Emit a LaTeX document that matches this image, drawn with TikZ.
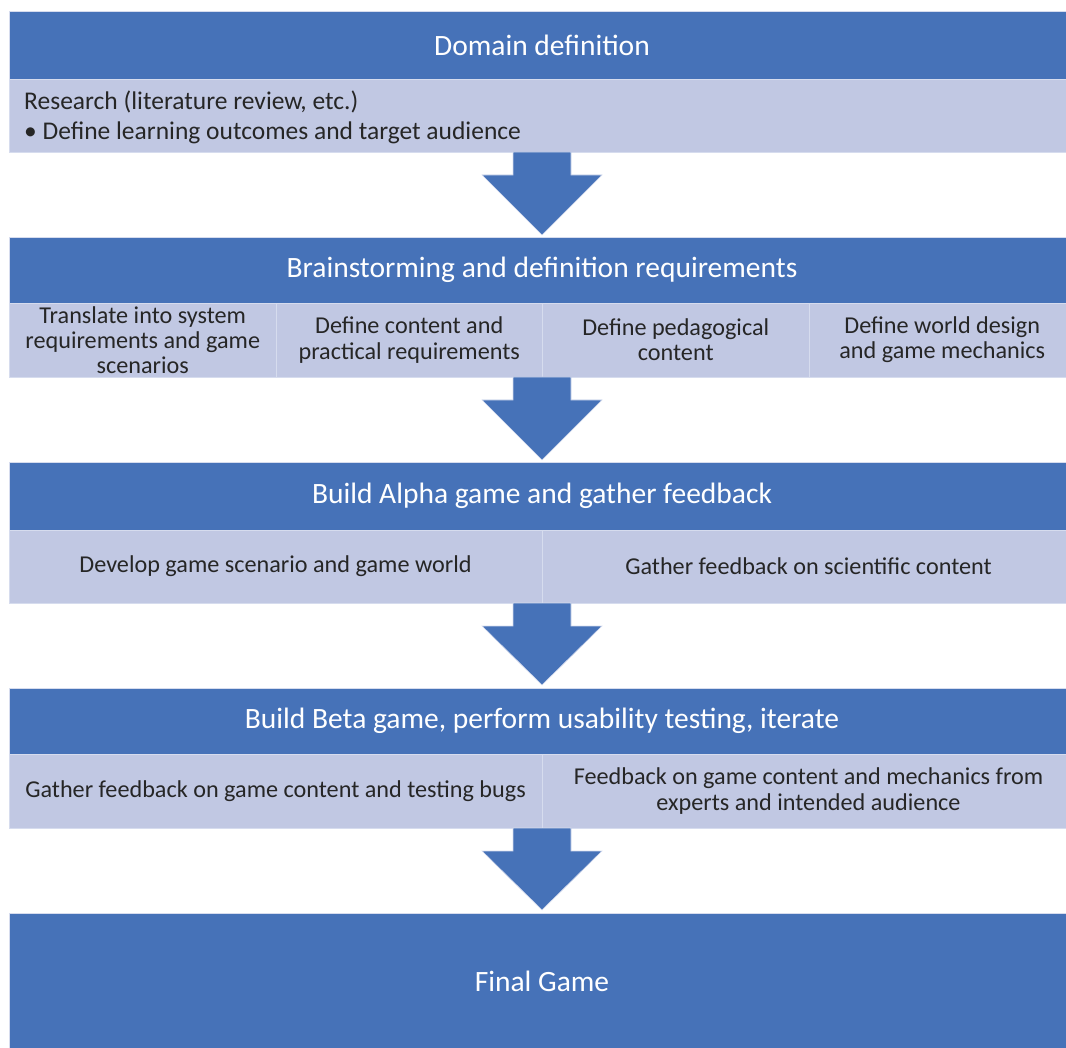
\documentclass[tikz,border=0pt]{standalone}
\usepackage{fontspec}
\setmainfont{Carlito}
\definecolor{hdrblue}{HTML}{4672B8}
\definecolor{subblue}{HTML}{C1C8E3}
\definecolor{edge}{HTML}{D6DCEE}
\definecolor{txt}{HTML}{262626}
\begin{document}
\begin{tikzpicture}[x=1pt,y=-1pt,
  hdr/.style={rectangle, fill=hdrblue, draw=edge, line width=0.8pt, text=white, inner sep=0pt,
    font=\fontsize{29.5}{34}\selectfont},
  sub/.style={rectangle, fill=subblue, draw=edge, line width=0.8pt, text=txt, inner sep=0pt,
    align=center, font=\fontsize{24.2}{25.3}\selectfont},
  blockarrow/.style={fill=hdrblue, draw=edge, line width=0.6pt}]
\useasboundingbox (0,0) rectangle (1066,1048);
\clip (0,0) rectangle (1066,1048);
% Box 1
\node[hdr, minimum width=1066pt, minimum height=68pt] (h1) at (542,45) {Domain definition};
\node[sub, minimum width=1066pt, minimum height=73pt] (s1) at (542,115.5) {};
\node[anchor=west, text=txt, align=left, font=\fontsize{25.5}{30}\selectfont, inner sep=0pt] (s1t) at (24,117.5)
  {Research (literature review, etc.)\\\textbullet{} Define learning outcomes and target audience};
% Arrow 1
\draw[blockarrow] (513,152) -- (571,152) -- (571,175) -- (602,175) -- (542,235) -- (482,175) -- (513,175) -- cycle;
% Box 2
\node[hdr, minimum width=1066pt, minimum height=66pt] (h2) at (542,270) {Brainstorming and definition requirements};
\node[sub, minimum width=266.5pt, minimum height=74pt] (s2a) at (142.75,340) {Translate into system\\requirements and game\\scenarios};
\node[sub, minimum width=266.5pt, minimum height=74pt] (s2b) at (409.25,340) {Define content and\\practical requirements};
\node[sub, minimum width=266.5pt, minimum height=74pt] (s2c) at (675.75,340) {Define pedagogical\\content};
\node[sub, minimum width=266.5pt, minimum height=74pt] (s2d) at (942.25,340) {Define world design\\and game mechanics};
% Arrow 2
\draw[blockarrow] (513,377) -- (571,377) -- (571,400) -- (602,400) -- (542,460) -- (482,400) -- (513,400) -- cycle;
% Box 3
\node[hdr, minimum width=1066pt, minimum height=68pt] (h3) at (542,496) {Build Alpha game and gather feedback};
\node[sub, minimum width=533pt, minimum height=73pt] (s3a) at (275.5,566.5) {Develop game scenario and game world};
\node[sub, minimum width=533pt, minimum height=73pt] (s3b) at (808.5,566.5) {Gather feedback on scientific content};
% Arrow 3
\draw[blockarrow] (513,603) -- (571,603) -- (571,626) -- (602,626) -- (542,685) -- (482,626) -- (513,626) -- cycle;
% Box 4
\node[hdr, minimum width=1066pt, minimum height=66pt] (h4) at (542,721) {Build Beta game, perform usability testing, iterate};
\node[sub, minimum width=533pt, minimum height=74pt] (s4a) at (275.5,791) {Gather feedback on game content and testing bugs};
\node[sub, minimum width=533pt, minimum height=74pt] (s4b) at (808.5,791) {Feedback on game content and mechanics from\\experts and intended audience};
% Arrow 4
\draw[blockarrow] (513,828) -- (571,828) -- (571,851) -- (602,851) -- (542,910) -- (482,851) -- (513,851) -- cycle;
% Final
\node[hdr, minimum width=1066pt, minimum height=137pt] (h5) at (542,981.5) {Final Game};
\end{tikzpicture}
\end{document}
